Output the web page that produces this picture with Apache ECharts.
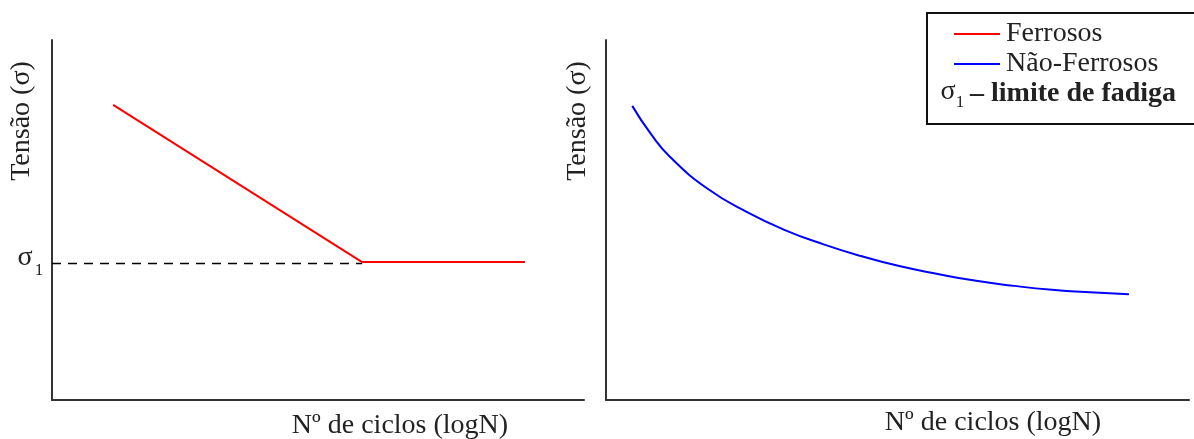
<!DOCTYPE html>
<html>
<head>
<meta charset="utf-8">
<script src="https://cdn.jsdelivr.net/npm/echarts@6/dist/echarts.min.js"></script>
<style>
  html, body { margin: 0; padding: 0; background: #fff; }
  #chart { width: 1194px; height: 439px; }
</style>
</head>
<body>
<div id="chart"></div>
<script>
// valores (escala arbitrária 0..10)
const ferrososX = [1.15, 5.83, 8.89]
const ferrososY = [8.2, 3.83, 3.83]
const limiteX = [0, 5.83]
const limiteY = [3.79, 3.79]
const naoFerrososX = [0.45, 0.77, 1.10, 1.75, 2.42, 3.07, 3.72, 4.37, 5.03, 5.69, 6.35, 7.00, 7.65, 8.30, 8.97]
const naoFerrososY = [8.17, 7.39, 6.75, 5.86, 5.22, 4.72, 4.33, 4.00, 3.72, 3.50, 3.31, 3.17, 3.06, 2.99, 2.94]

const FONT = "'Liberation Serif', 'Times New Roman', serif"
const TXT = '#222'
const pairs = (xs, ys) => xs.map((x, i) => [x, ys[i]])

const chart = echarts.init(document.getElementById('chart'), null, { renderer: 'canvas' })

const axisBase = {
  type: 'value', min: 0, max: 10,
  axisLine: { show: true, onZero: false, lineStyle: { color: '#333', width: 2 } },
  axisTick: { show: false }, axisLabel: { show: false }, splitLine: { show: false }
}

const txt = (text, x, y, extra = {}) => ({
  type: 'text', x, y, rotation: extra.rotation || 0,
  style: {
    text, fill: TXT, fontFamily: FONT, fontSize: extra.size || 28,
    fontWeight: extra.weight || 'normal',
    align: extra.align || 'center', verticalAlign: 'middle'
  }
})

chart.setOption({
  animation: false,
  grid: [
    { left: 52, top: 40, width: 532, height: 360 },
    { left: 606, top: 40, width: 583, height: 360 }
  ],
  xAxis: [{ ...axisBase, gridIndex: 0 }, { ...axisBase, gridIndex: 1 }],
  yAxis: [{ ...axisBase, gridIndex: 0 }, { ...axisBase, gridIndex: 1 }],
  legend: {
    data: ['Ferrosos', 'Não-Ferrosos'],
    orient: 'vertical', left: 949, top: 15,
    icon: 'rect', itemWidth: 46, itemHeight: 2, itemGap: 2,
    selectedMode: false,
    textStyle: { fontFamily: FONT, fontSize: 28, lineHeight: 28, color: TXT, padding: [0, 0, 0, 1] }
  },
  series: [
    {
      name: 'limite', type: 'line', xAxisIndex: 0, yAxisIndex: 0,
      data: pairs(limiteX, limiteY), showSymbol: false, silent: true,
      lineStyle: { color: '#000', width: 1.5, type: [9, 7] }
    },
    {
      name: 'Ferrosos', type: 'line', xAxisIndex: 0, yAxisIndex: 0,
      data: pairs(ferrososX, ferrososY), showSymbol: false,
      itemStyle: { color: '#ff0000' }, lineStyle: { color: '#ff0000', width: 2 }
    },
    {
      name: 'Não-Ferrosos', type: 'line', xAxisIndex: 1, yAxisIndex: 1,
      data: pairs(naoFerrososX, naoFerrososY), showSymbol: false, smooth: 0.5,
      itemStyle: { color: '#0000ff' }, lineStyle: { color: '#0000ff', width: 2 }
    }
  ],
  graphic: [
    txt('Tensão (σ)', 22, 121, { rotation: Math.PI / 2 }),
    txt('Tensão (σ)', 578, 121, { rotation: Math.PI / 2 }),
    txt('Nº de ciclos (logN)', 400, 426),
    txt('Nº de ciclos (logN)', 993, 423),
    txt('σ', 25, 258),
    txt('1', 39, 271, { size: 17 }),
    {
      type: 'rect', shape: { x: 927, y: 13, width: 300, height: 111 },
      style: { fill: 'none', stroke: '#111', lineWidth: 2 }
    },
    txt('σ', 948, 92),
    txt('1', 960, 103, { size: 17 }),
    txt('– limite de fadiga', 970, 94, { align: 'left', weight: 'bold', size: 28 })
  ]
})

window.addEventListener('resize', () => chart.resize())
</script>
</body>
</html>
